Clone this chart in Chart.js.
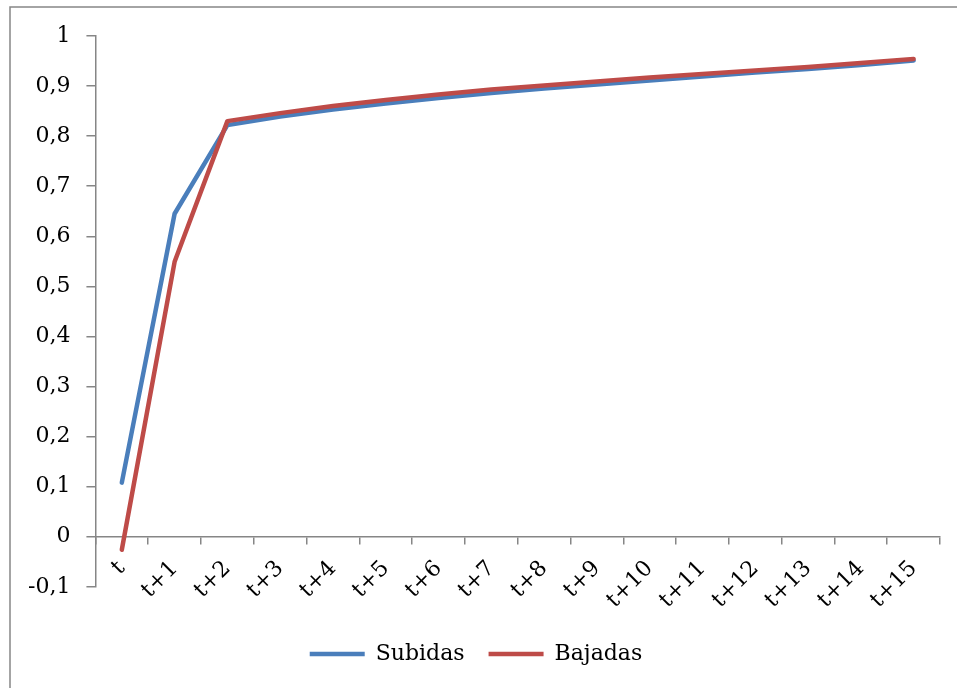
<!DOCTYPE html>
<html>
<head>
<meta charset="utf-8">
<script src="https://cdn.jsdelivr.net/npm/chart.js@4.4.1/dist/chart.umd.min.js"></script>
<style>
    body { margin: 0; background: #fff; }
    canvas { display: block; }
</style>
</head>
<body>
<canvas id="myChart" width="957" height="688"></canvas>
<script>
var periodos = ['t', 't+1', 't+2', 't+3', 't+4', 't+5', 't+6', 't+7', 't+8', 't+9', 't+10', 't+11', 't+12', 't+13', 't+14', 't+15'];
var subidas = [0.108, 0.645, 0.822, 0.839, 0.853, 0.865, 0.876, 0.886, 0.895, 0.903, 0.911, 0.919, 0.927, 0.934, 0.942, 0.951];
var bajadas = [-0.026, 0.549, 0.830, 0.846, 0.860, 0.872, 0.883, 0.893, 0.901, 0.909, 0.917, 0.924, 0.931, 0.938, 0.946, 0.954];
var yMin = -0.1;
var yMax = 1;
var yStep = 0.1;

var gris = '#868686';
var fuente = 'DejaVu Serif';

// marco exterior del grafico (solo se ven el borde superior e izquierdo)
var marco = {
    id: 'marco',
    beforeDraw: function (chart) {
        var ctx = chart.ctx;
        ctx.save();
        ctx.strokeStyle = gris;
        ctx.lineWidth = 1.5;
        ctx.strokeRect(10, 7, 2000, 2000);
        ctx.restore();
    }
};

function formatoTick(value) {
    return Number(value.toFixed(1)).toString().replace('.', ',');
}

var ctx = document.getElementById('myChart').getContext('2d');
var myChart = new Chart(ctx, {
    type: 'line',
    data: {
        labels: periodos,
        datasets: [{
            label: 'Subidas',
            data: subidas,
            borderColor: '#4A7EBB',
            backgroundColor: '#4A7EBB',
            borderWidth: 4.5,
            borderCapStyle: 'round',
            borderJoinStyle: 'round',
            pointRadius: 0,
            tension: 0,
            order: 1
        }, {
            label: 'Bajadas',
            data: bajadas,
            borderColor: '#BE4B48',
            backgroundColor: '#BE4B48',
            borderWidth: 4.5,
            borderCapStyle: 'round',
            borderJoinStyle: 'round',
            pointRadius: 0,
            tension: 0,
            order: 0
        }]
    },
    options: {
        responsive: false,
        animation: false,
        layout: {
            padding: { left: 12, right: 17, top: 36, bottom: 13 }
        },
        plugins: {
            tooltip: { enabled: false },
            legend: {
                position: 'bottom',
                title: {
                    display: true,
                    text: ' ',
                    font: { size: 1 },
                    padding: { top: 31, bottom: 0 }
                },
                labels: {
                    usePointStyle: true,
                    pointStyle: 'line',
                    pointStyleWidth: 55,
                    boxHeight: 4,
                    padding: 24,
                    color: '#000',
                    font: { family: fuente, size: 22 },
                    sort: function (a, b) { return a.datasetIndex - b.datasetIndex; }
                }
            }
        },
        scales: {
            x: {
                position: { y: 0 },
                offset: true,
                grid: {
                    offset: true,
                    drawOnChartArea: false,
                    drawTicks: true,
                    tickLength: 7,
                    color: gris,
                    lineWidth: 1.5
                },
                border: { color: gris, width: 1.5 },
                ticks: {
                    autoSkip: false,
                    minRotation: 45,
                    maxRotation: 45,
                    padding: 12,
                    color: '#000',
                    font: { family: fuente, size: 22 }
                }
            },
            y: {
                min: yMin,
                max: yMax,
                grid: {
                    drawOnChartArea: false,
                    drawTicks: true,
                    tickLength: 9,
                    color: gris,
                    lineWidth: 1.5
                },
                border: { color: gris, width: 1.5 },
                ticks: {
                    stepSize: yStep,
                    padding: 16,
                    color: '#000',
                    font: { family: fuente, size: 22 },
                    callback: formatoTick
                }
            }
        }
    },
    plugins: [marco]
});
</script>
</body>
</html>
